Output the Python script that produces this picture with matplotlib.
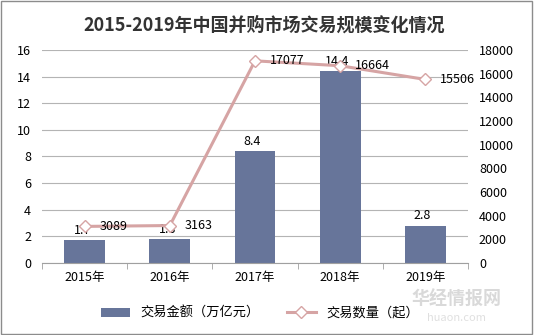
import matplotlib.pyplot as plt
from matplotlib.patches import Rectangle
import numpy as np

plt.rcParams['font.family'] = ['Noto Sans CJK SC', 'DejaVu Sans']

years = ['2015年', '2016年', '2017年', '2018年', '2019年']
amount = [1.7, 1.8, 8.4, 14.4, 2.8]          # 交易金额（万亿元）
deals = [3089, 3163, 17077, 16664, 15506]    # 交易数量（起）

bar_color = '#67759a'
line_color = '#d6a4a4'

fig = plt.figure(figsize=(5.34, 3.35), dpi=100)
ax = fig.add_axes([0.079, 0.215, 0.797, 0.636])
ax2 = ax.twinx()

x = np.arange(len(years))
ax.bar(x, amount, width=0.48, color=bar_color, zorder=2, label='交易金额（万亿元）')
ax2.plot(x, deals, color=line_color, lw=2.2, marker='D', ms=6,
         mfc='white', mec=line_color, mew=1, zorder=3, label='交易数量（起）')

ax.set_xlim(-0.5, len(years) - 0.5)
ax.set_ylim(0, 16)
ax.set_yticks(range(0, 17, 2))
ax2.set_ylim(0, 18000)
ax2.set_yticks(range(0, 18001, 2000))

ax.set_xticks(x)
ax.set_xticklabels(years)
ax.set_xticks(np.arange(-0.5, len(years), 1), minor=True)
ax.tick_params(axis='x', which='major', length=0, labelsize=9, pad=6)
ax.tick_params(axis='x', which='minor', length=4, color='#a0a0a0')
ax.tick_params(axis='y', length=0, labelsize=9, pad=8)
ax2.tick_params(axis='y', length=0, labelsize=9, pad=8)

ax.grid(axis='y', color='#b4b4b4', lw=0.8, zorder=0)
ax.set_axisbelow(True)
for a in (ax, ax2):
    for s in a.spines.values():
        s.set_visible(False)
ax.spines['bottom'].set_visible(True)
ax.spines['bottom'].set_color('#a0a0a0')

# 数值标签
for i, v in enumerate(amount):
    ax.text(i - 0.03, v + 0.25, '%.1f' % v, ha='center', va='bottom', fontsize=9)
for i, v in enumerate(deals):
    ax2.text(i + 0.17, v, '%d' % v, ha='left', va='center', fontsize=9)

fig.text(0.495, 0.925, '2015-2019年中国并购市场交易规模变化情况', ha='center',
         va='center', fontsize=13, fontweight='bold', color='#333333')

h1, l1 = ax.get_legend_handles_labels()
h2, l2 = ax2.get_legend_handles_labels()
fig.legend(h1 + h2, l1 + l2, loc='center', bbox_to_anchor=(0.487, 0.065), ncol=2,
           frameon=False, fontsize=9.5, handlelength=2.2, columnspacing=2)

# 水印
fig.text(0.855, 0.105, '华经情报网', ha='center', va='center', fontsize=13,
         color='#d0d0d0', fontweight='bold', alpha=0.8)
fig.text(0.855, 0.05, 'huaon.com', ha='center', va='center', fontsize=8,
         color='#d8d8d8', alpha=0.8)

fig.patches.append(Rectangle((0.002, 0.003), 0.995, 0.994, transform=fig.transFigure,
                             fill=False, edgecolor='#8c8c8c', lw=1))

fig.savefig('out.png', dpi=100)
